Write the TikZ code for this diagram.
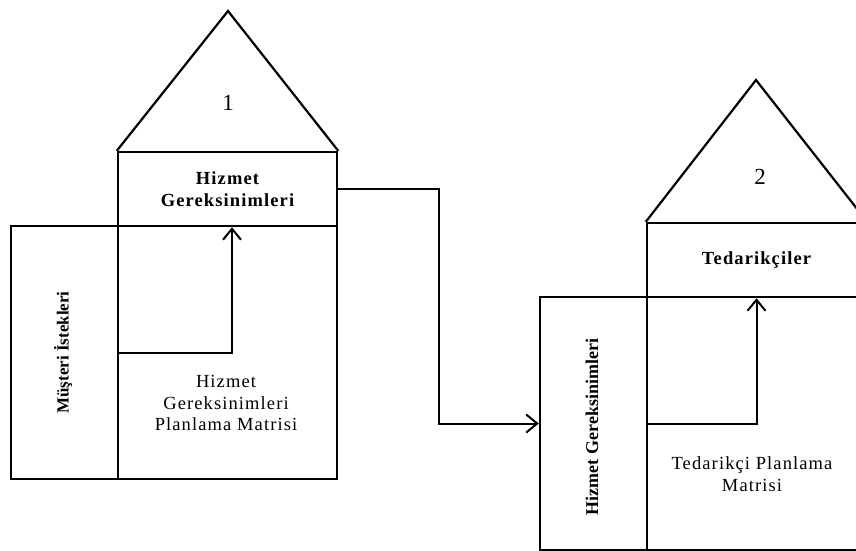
\documentclass[tikz,border=0pt]{standalone}
\usepackage{fontspec}
\setmainfont{Liberation Serif}
\newfontfamily\spaced[LetterSpace=6]{Liberation Serif}
\usetikzlibrary{arrows.meta}

\tikzset{
  box/.style={draw, line width=2.4pt, inner sep=0pt},
  flow/.style={line width=2pt, -{Straight Barb[length=11pt, width=18pt, line width=2pt]}},
  label/.style={font=\spaced\fontsize{18.5}{21.5}\selectfont, align=center},
  sidelabel/.style={font=\bfseries\fontsize{17}{20}\selectfont, rotate=90},
  num/.style={font=\fontsize{23}{26}\selectfont}
}

\begin{document}
\begin{tikzpicture}[x=1pt, y=-1pt, line join=miter]
            \clip (0,0) rectangle (856,550);

            % first house
            \node[box, minimum width=219, minimum height=74, label] (req1) at (227.5,189) {\bfseries Hizmet\\\bfseries Gereksinimleri};
            \node[box, minimum width=107, minimum height=253] (cust1) at (64.5,352.5) {};
            \node[box, minimum width=219, minimum height=253] (mat1) at (227.5,352.5) {};
            \node[sidelabel] (custtxt) at (63,352.5) {Müşteri İstekleri};
            \node[label] (mat1txt) at (226,403) {Hizmet\\Gereksinimleri\\Planlama Matrisi};
            \draw[line width=2.2pt] (req1.north west) -- (228,11) -- (req1.north east);
            \node[num] (n1) at (228,103) {1};

            % second house
            \node[box, minimum width=219, minimum height=74, label] (sup2) at (756.5,260) {\bfseries Tedarikçiler};
            \node[box, minimum width=107, minimum height=253] (req2) at (593.5,423.5) {};
            \node[box, minimum width=219, minimum height=253] (mat2) at (756.5,423.5) {};
            \node[sidelabel, font=\bfseries\fontsize{18}{20}\selectfont] (req2txt) at (592,427) {Hizmet Gereksinimleri};
            \node[label] (mat2txt) at (752,474) {Tedarikçi Planlama\\Matrisi};
            \draw[line width=2.2pt] (sup2.north west) -- (756,80) -- (sup2.north east);
            \node[num] (n2) at (760,177) {2};

            % connectors
            \draw[flow] (mat1.west) -| ([xshift=4.5pt]req1.south);
            \draw[flow] (req1.east) -- ++(101,0) |- (req2.west);
            \draw[flow] (mat2.west) -| (sup2.south);
        \end{tikzpicture}
\end{document}
